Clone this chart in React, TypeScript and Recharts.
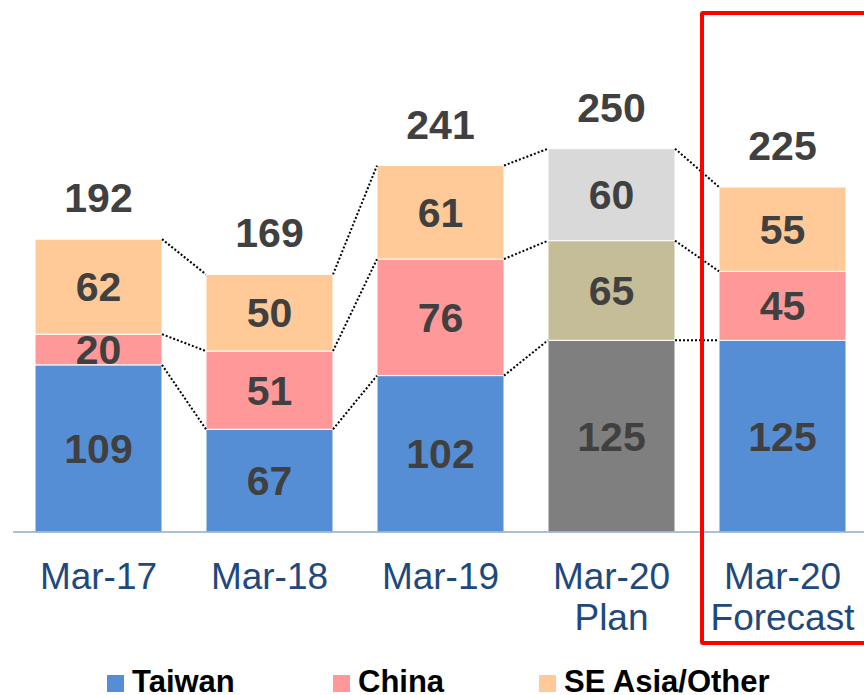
import React from 'react';
import { BarChart, Bar, XAxis, YAxis, Cell, LabelList, ReferenceLine } from 'recharts';

const categories = ['Mar-17', 'Mar-18', 'Mar-19', 'Mar-20 Plan', 'Mar-20 Forecast'];
const tickLabels = [['Mar-17'], ['Mar-18'], ['Mar-19'], ['Mar-20', 'Plan'], ['Mar-20', 'Forecast']];
const taiwan = [109, 67, 102, 125, 125];
const china = [20, 51, 76, 65, 45];
const other = [62, 50, 61, 60, 55];
const totals = [192, 169, 241, 250, 225];

const seriesNames = ['Taiwan', 'China', 'SE Asia/Other'];
const seriesKeys = ['taiwan', 'china', 'other'];
const seriesColors = ['#558ED5', '#FF9999', '#FFCA97'];
const planColors = ['#7F7F7F', '#C4BD97', '#D9D9D9'];
const planIndex = 3;

const data = categories.map((name, i) => ({
  name,
  taiwan: taiwan[i],
  china: china[i],
  other: other[i],
  total: totals[i],
}));

const FONT = "'Liberation Sans', Arial, sans-serif";
const BAR_SIZE = 127;

const Tick = (props: any) => {
  const { x, y, index } = props;
  const lines = tickLabels[index] || [String(props.payload?.value)];
  return (
    <text x={x} y={y} textAnchor="middle" fill="#1F497D" fontSize={37} fontFamily={FONT}>
      {lines.map((l: string, k: number) => (
        <tspan key={k} x={x} dy={k === 0 ? 57 : 41}>
          {l}
        </tspan>
      ))}
    </text>
  );
};

const connectorShape = (p: any) => {
  const half = BAR_SIZE / 2;
  return (
    <line
      x1={p.x1 + half}
      y1={p.y1}
      x2={p.x2 - half}
      y2={p.y2}
      stroke="#000"
      strokeWidth={2}
      strokeDasharray="2 2"
    />
  );
};

const cumLevels = categories.map((_, i) => [
  taiwan[i],
  taiwan[i] + china[i],
  taiwan[i] + china[i] + other[i],
]);

export default function App() {
  const connectors: any[] = [];
  for (let i = 0; i < categories.length - 1; i++) {
    for (let l = 0; l < 3; l++) {
      connectors.push(
        <ReferenceLine
          key={`c-${i}-${l}`}
          segment={[
            { x: categories[i], y: cumLevels[i][l] },
            { x: categories[i + 1], y: cumLevels[i + 1][l] },
          ]}
          shape={connectorShape}
          ifOverflow="visible"
        />
      );
    }
  }

  const legendPos = [107, 333, 539];

  return (
    <div style={{ position: 'absolute', left: 0, top: 0, width: 864, height: 695, overflow: 'hidden', background: '#fff' }}>
      <BarChart
        width={868}
        height={695}
        data={data}
        margin={{ top: 72, right: 0, left: 13, bottom: 63 }}
        barSize={BAR_SIZE}
      >
        <YAxis hide domain={[0, 300]} />
        <XAxis
          dataKey="name"
          interval={0}
          tick={<Tick />}
          tickLine={false}
          tickSize={0}
          tickMargin={0}
          height={100}
          axisLine={{ stroke: '#8EA9D3', strokeWidth: 1.5 }}
        />
        {seriesKeys.map((key, s) => (
          <Bar
            key={key}
            dataKey={key}
            name={seriesNames[s]}
            stackId="a"
            fill={seriesColors[s]}
            stroke="#FFFFFF"
            strokeWidth={1}
            isAnimationActive={false}
          >
            {data.map((_, i) => (
              <Cell key={i} fill={i === planIndex ? planColors[s] : seriesColors[s]} />
            ))}
            <LabelList
              dataKey={key}
              position="center"
              fill="#404040"
              fontSize={41}
              fontWeight="bold"
              fontFamily={FONT}
            />
            {s === 2 && (
              <LabelList
                dataKey="total"
                position="top"
                offset={27}
                fill="#404040"
                fontSize={41}
                fontWeight="bold"
                fontFamily={FONT}
              />
            )}
          </Bar>
        ))}
        {connectors}
      </BarChart>
      <div
        style={{
          position: 'absolute',
          left: 700,
          top: 11,
          width: 220,
          height: 626,
          border: '4px solid #FF0000',
          borderRadius: 3,
          pointerEvents: 'none',
        }}
      />
      {seriesNames.map((n, s) => (
        <React.Fragment key={n}>
          <div
            style={{
              position: 'absolute',
              left: legendPos[s],
              top: 675,
              width: 17,
              height: 17,
              background: seriesColors[s],
            }}
          />
          <div
            style={{
              position: 'absolute',
              left: legendPos[s] + 25,
              top: 664,
              fontFamily: FONT,
              fontWeight: 'bold',
              fontSize: 31,
              color: '#000',
              whiteSpace: 'nowrap',
              lineHeight: 'normal',
            }}
          >
            {n}
          </div>
        </React.Fragment>
      ))}
    </div>
  );
}
